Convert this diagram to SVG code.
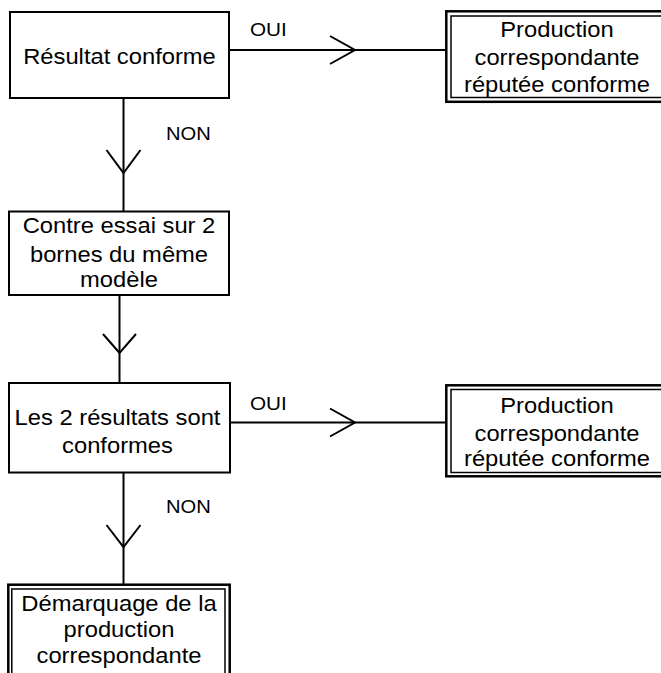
<svg xmlns="http://www.w3.org/2000/svg" width="661" height="673" viewBox="0 0 661 673">
<defs>
<style>
.bg{fill:#ffffff}
.box{fill:#ffffff;stroke:#000;stroke-width:2}
.dout{fill:#ffffff;stroke:#000;stroke-width:2.5}
.din{fill:none;stroke:#000;stroke-width:1.5}
.ln{fill:none;stroke:#000;stroke-width:2}
.ah{fill:none;stroke:#000;stroke-width:2;stroke-linejoin:miter}
.t{font-family:"Liberation Sans",Arial,sans-serif;font-size:22px;fill:#000;text-anchor:middle}
.lb{font-family:"Liberation Sans",Arial,sans-serif;font-size:18.5px;fill:#000}
</style>
</defs>
<rect class="bg" x="0" y="0" width="661" height="673"/>

<g id="connectors">
  <line class="ln" x1="229" y1="50" x2="446" y2="50"/>
  <polyline class="ah" points="330,36 355,50 330,64"/>
  <text class="lb" transform="translate(250,36) scale(1.12,1)">OUI</text>

  <line class="ln" x1="123.5" y1="98" x2="123.5" y2="211"/>
  <polyline class="ah" points="106.5,150 123.5,173 140.5,150"/>
  <text class="lb" transform="translate(166,140) scale(1.09,1)">NON</text>

  <line class="ln" x1="119.5" y1="295" x2="119.5" y2="383"/>
  <polyline class="ah" points="103,334 119.5,353 136,334"/>

  <line class="ln" x1="230" y1="422.5" x2="446" y2="422.5"/>
  <polyline class="ah" points="330,408.5 355,422.5 330,436.5"/>
  <text class="lb" transform="translate(250,410) scale(1.12,1)">OUI</text>

  <line class="ln" x1="123.5" y1="473" x2="123.5" y2="584"/>
  <polyline class="ah" points="106.5,525 123.5,547 140.5,525"/>
  <text class="lb" transform="translate(166,513) scale(1.09,1)">NON</text>
</g>

<g id="n1">
  <rect class="box" x="10" y="12" width="219" height="86"/>
  <text class="t" transform="translate(119.5,64) scale(1.08,1)">Résultat conforme</text>
</g>

<g id="n2">
  <rect class="dout" x="446.3" y="11.3" width="225" height="90.5"/>
  <rect class="din" x="451" y="16" width="215" height="81.5"/>
  <text class="t" transform="translate(557,37) scale(1.08,1)">Production</text>
  <text class="t" transform="translate(557,64.5) scale(1.08,1)">correspondante</text>
  <text class="t" transform="translate(557,91.7) scale(1.08,1)">réputée conforme</text>
</g>

<g id="n3">
  <rect class="box" x="9" y="211.5" width="220" height="83.5"/>
  <text class="t" transform="translate(119,233.3) scale(1.08,1)">Contre essai sur 2</text>
  <text class="t" transform="translate(119,261.7) scale(1.08,1)">bornes du même</text>
  <text class="t" transform="translate(119,287.3) scale(1.08,1)">modèle</text>
</g>

<g id="n4">
  <rect class="box" x="9" y="383" width="221" height="89.5"/>
  <text class="t" transform="translate(117.5,425) scale(1.08,1)">Les 2 résultats sont</text>
  <text class="t" transform="translate(117.5,452.5) scale(1.08,1)">conformes</text>
</g>

<g id="n5">
  <rect class="dout" x="446.3" y="385.3" width="225" height="91"/>
  <rect class="din" x="451" y="389.5" width="215" height="83"/>
  <text class="t" transform="translate(557,413.3) scale(1.08,1)">Production</text>
  <text class="t" transform="translate(557,440.5) scale(1.08,1)">correspondante</text>
  <text class="t" transform="translate(557,466) scale(1.08,1)">réputée conforme</text>
</g>

<g id="n6">
  <rect class="dout" x="8.3" y="584.7" width="221.4" height="100"/>
  <rect class="din" x="11.8" y="589" width="213.2" height="95"/>
  <text class="t" transform="translate(119,610.5) scale(1.08,1)">Démarquage de la</text>
  <text class="t" transform="translate(119,636.7) scale(1.08,1)">production</text>
  <text class="t" transform="translate(119,662.7) scale(1.08,1)">correspondante</text>
</g>
</svg>
